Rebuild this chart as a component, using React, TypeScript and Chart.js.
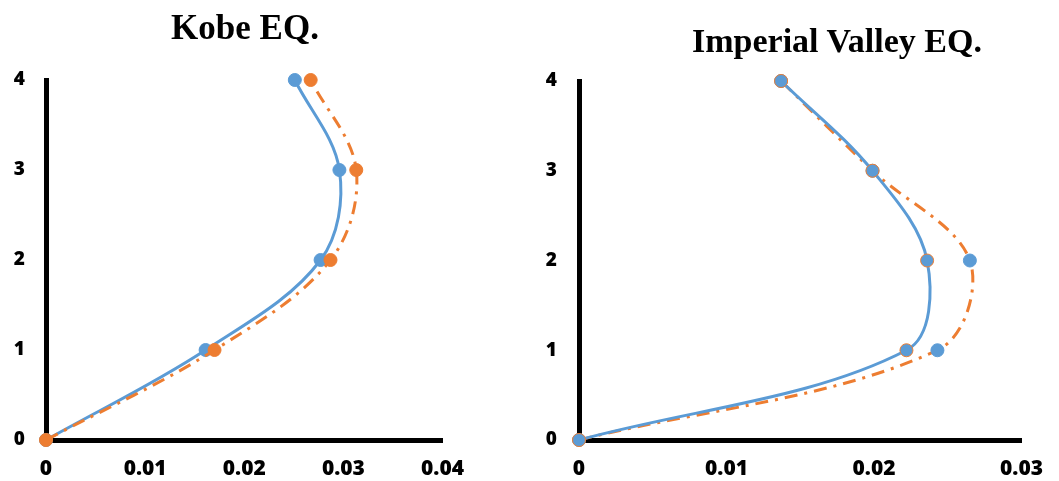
import React, { useEffect, useRef } from "react";
import { Chart, registerables } from "chart.js";
Chart.register(...registerables);

const stories = [0, 1, 2, 3, 4];
const kobeBlue = [0, 0.0161, 0.0277, 0.0296, 0.0251];
const kobeOrange = [0, 0.017, 0.0287, 0.0313, 0.0267];
const impBlue = [0, 0.0222, 0.0236, 0.0199, 0.0137];
const impOrange = [0, 0.0243, 0.0265, 0.0199, 0.0137];
const kobeXTicks = ["0", "0.01", "0.02", "0.03", "0.04"];
const impXTicks = ["0", "0.01", "0.02", "0.03"];
const yTicks = ["0", "1", "2", "3", "4"];

const BLUE = "#5B9BD5";
const ORANGE = "#ED7D31";
const X_FONT = { family: "'Open Sans', 'Noto Sans', sans-serif", size: 21, weight: 800 as any };
const Y_FONT = { family: "'Open Sans', 'Noto Sans', sans-serif", size: 19, weight: 800 as any };

type DS = {
  xs: number[];
  color: string;
  dashed: boolean;
  pointFill: string;
  pointBorder: string;
  pointBorderWidth: number;
};

function toPoints(xs: number[]) {
  return xs.map((x, i) => ({ x, y: stories[i] }));
}

function Panel(props: {
  left: number;
  width: number;
  yAxisWidth: number;
  yPad: number;
  rightPad: number;
  top: number;
  xLabels: string[];
  series: DS[];
}) {
  const ref = useRef<HTMLCanvasElement | null>(null);
  useEffect(() => {
    if (!ref.current) return;
    const xMax = (props.xLabels.length - 1) * 0.01;
    const chart = new Chart(ref.current, {
      type: "scatter",
      data: {
        datasets: props.series.map((s) => ({
          data: toPoints(s.xs),
          showLine: true,
          borderColor: s.color,
          borderWidth: 3,
          borderDash: s.dashed ? [13, 7, 3, 7] : [],
          tension: 0.35,
          pointRadius: 6.5,
          pointBackgroundColor: s.pointFill,
          pointBorderColor: s.pointBorder,
          pointBorderWidth: s.pointBorderWidth,
          clip: false as any,
        })),
      },
      options: {
        responsive: false,
        animation: false,
        events: [],
        layout: { padding: { top: props.top, right: props.rightPad, left: 0, bottom: 0 } },
        plugins: { legend: { display: false }, tooltip: { enabled: false }, title: { display: false } },
        scales: {
          x: {
            type: "linear",
            min: 0,
            max: xMax,
            afterFit: (scale: any) => {
              scale.height = 41;
            },
            afterBuildTicks: (scale: any) => {
              scale.ticks = props.xLabels.map((_, i) => ({ value: i * 0.01 }));
            },
            ticks: {
              color: "#000",
              font: X_FONT,
              padding: 16,
              maxRotation: 0,
              autoSkip: false,
              callback: (v: any) => props.xLabels[Math.round(Number(v) / 0.01)] ?? "",
            },
            grid: { display: false, drawTicks: false },
            border: { display: true, color: "#000", width: 5 },
          },
          y: {
            type: "linear",
            min: 0,
            max: 4,
            afterFit: (scale: any) => {
              scale.width = props.yAxisWidth;
            },
            afterBuildTicks: (scale: any) => {
              scale.ticks = yTicks.map((_, i) => ({ value: i }));
            },
            ticks: {
              color: "#000",
              font: Y_FONT,
              padding: props.yPad,
              autoSkip: false,
              callback: (v: any) => yTicks[Math.round(Number(v))] ?? "",
            },
            grid: { display: false, drawTicks: false },
            border: { display: true, color: "#000", width: 5 },
          },
        },
      },
    });
    return () => chart.destroy();
  }, []);
  return (
    <canvas
      ref={ref}
      width={props.width}
      height={481}
      style={{ position: "absolute", left: props.left, top: 0, width: props.width, height: 481 }}
    />
  );
}

const titleStyle: React.CSSProperties = {
  position: "absolute",
  fontFamily: "'Liberation Serif', 'Times New Roman', serif",
  fontWeight: "bold",
  fontSize: 35,
  lineHeight: "35px",
  color: "#000",
  whiteSpace: "nowrap",
  transform: "translateX(-50%)",
};

export default function App() {
  return (
    <div style={{ position: "fixed", left: 0, top: 0, width: 1059, height: 481, background: "#fff", overflow: "hidden" }}>
      <Panel
        left={0}
        width={480}
        yAxisWidth={46}
        yPad={21}
        rightPad={35}
        top={80}
        xLabels={kobeXTicks}
        series={[
          { xs: kobeOrange, color: ORANGE, dashed: true, pointFill: ORANGE, pointBorder: ORANGE, pointBorderWidth: 1 },
          { xs: kobeBlue, color: BLUE, dashed: false, pointFill: BLUE, pointBorder: BLUE, pointBorderWidth: 1 },
        ]}
      />
      <Panel
        left={530}
        width={529}
        yAxisWidth={49}
        yPad={22}
        rightPad={30}
        top={81}
        xLabels={impXTicks}
        series={[
          { xs: impBlue, color: BLUE, dashed: false, pointFill: BLUE, pointBorder: ORANGE, pointBorderWidth: 1 },
          { xs: impOrange, color: ORANGE, dashed: true, pointFill: BLUE, pointBorder: BLUE, pointBorderWidth: 1 },
        ]}
      />
      <div style={{ ...titleStyle, left: 245, top: 10 }}>Kobe EQ.</div>
      <div style={{ ...titleStyle, left: 837, top: 24, fontSize: 34, lineHeight: "34px" }}>Imperial Valley EQ.</div>
    </div>
  );
}
